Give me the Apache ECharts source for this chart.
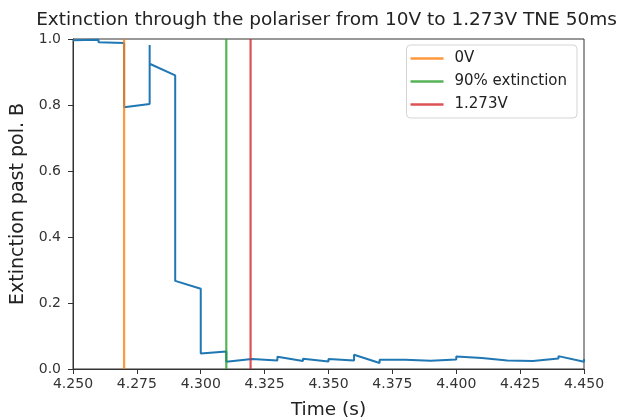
<!DOCTYPE html>
<html>
<head>
<meta charset="utf-8">
<script src="https://cdn.jsdelivr.net/npm/echarts@6/dist/echarts.min.js"></script>
<style>
  html, body { margin: 0; padding: 0; background: #fff; }
  #chart { width: 618px; height: 419px; }
</style>
</head>
<body>
<div id="chart"></div>
<script>
// measured signal: several samples share the same rounded time stamp
var times = [4.25, 4.26, 4.26, 4.27, 4.27, 4.28, 4.28, 4.28, 4.29, 4.29, 4.30, 4.30, 4.31, 4.31,
             4.32, 4.33, 4.33, 4.34, 4.34, 4.35, 4.35, 4.36, 4.36, 4.37, 4.37, 4.38, 4.38,
             4.39, 4.39, 4.40, 4.40, 4.41, 4.41, 4.42, 4.42, 4.43, 4.43, 4.44, 4.44, 4.45, 4.45];
var extinction = [0.996, 0.998, 0.990, 0.988, 0.793, 0.803, 0.982, 0.925, 0.890, 0.267, 0.243, 0.047, 0.053, 0.022,
                  0.030, 0.026, 0.037, 0.024, 0.031, 0.023, 0.030, 0.026, 0.043, 0.018, 0.028, 0.028, 0.022,
                  0.025, 0.030, 0.029, 0.038, 0.033, 0.039, 0.026, 0.032, 0.024, 0.030, 0.032, 0.039, 0.022, 0.030];

var markerNames = ['0V', '90% extinction', '1.273V'];
var markerTimes = [4.27, 4.31, 4.3195];
var markerColors = ['rgba(255,127,14,0.8)', 'rgba(44,160,44,0.8)', 'rgba(214,39,40,0.8)'];

var xTicks = { min: 4.25, max: 4.45, step: 0.025 };
var yTicks = { min: 0, max: 1, step: 0.2 };

var font = 'DejaVu Sans';

var mainData = times.map(function (t, i) { return [t, extinction[i]]; });

var series = [{
  name: 'signal',
  type: 'line',
  data: mainData,
  showSymbol: false,
  lineStyle: { color: '#1f77b4', width: 2 },
  z: 2
}];
markerNames.forEach(function (n, i) {
  series.push({
    name: n,
    type: 'line',
    data: [[markerTimes[i], 0], [markerTimes[i], 1]],
    showSymbol: false,
    color: markerColors[i],
    lineStyle: { color: markerColors[i], width: 2.2 },
    z: 3
  });
});

var chart = echarts.init(document.getElementById('chart'));
chart.setOption({
  animation: false,
  textStyle: { fontFamily: font },
  title: {
    text: 'Extinction through the polariser from 10V to 1.273V TNE 50ms',
    left: 321.5, top: 6, textAlign: 'center',
    textStyle: { fontFamily: font, fontSize: 18.5, fontWeight: 'normal', color: '#222' }
  },
  legend: {
    data: markerNames,
    orient: 'vertical',
    right: 41, top: 45,
    icon: 'rect',
    itemWidth: 33, itemHeight: 2.5,
    itemGap: 8,
    padding: [6, 10, 6, 4],
    backgroundColor: '#fff',
    borderColor: '#d5d5d5', borderWidth: 1, borderRadius: 4,
    textStyle: { fontFamily: font, fontSize: 15, color: '#222', padding: [0, 0, 0, 6] }
  },
  grid: {
    left: 73, right: 34, top: 39, bottom: 50,
    outerBoundsMode: 'none',
    show: true, borderColor: '#333', borderWidth: 1, backgroundColor: '#fff'
  },
  xAxis: {
    type: 'value',
    min: xTicks.min, max: xTicks.max, interval: xTicks.step,
    name: 'Time (s)', nameLocation: 'middle', nameGap: 32,
    nameTextStyle: { fontFamily: font, fontSize: 18.5, color: '#222' },
    axisLine: { show: true, lineStyle: { color: '#333' } },
    axisTick: { show: true, length: 5, lineStyle: { color: '#333' } },
    axisLabel: { fontFamily: font, fontSize: 14, color: '#333', margin: 8,
                 formatter: function (v) { return v.toFixed(3); } },
    splitLine: { show: false }
  },
  yAxis: {
    type: 'value',
    min: yTicks.min, max: yTicks.max, interval: yTicks.step,
    name: 'Extinction past pol. B', nameLocation: 'middle', nameGap: 44,
    nameTextStyle: { fontFamily: font, fontSize: 19, color: '#222' },
    axisLine: { show: true, lineStyle: { color: '#333' } },
    axisTick: { show: true, length: 5, lineStyle: { color: '#333' } },
    axisLabel: { fontFamily: font, fontSize: 14, color: '#333', margin: 12,
                 formatter: function (v) { return v.toFixed(1); } },
    splitLine: { show: false }
  },
  series: series
});
</script>
</body>
</html>
